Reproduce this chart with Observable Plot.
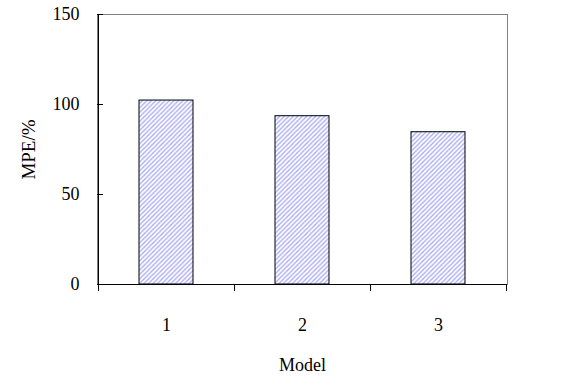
<!DOCTYPE html>
<html>
<head>
<meta charset="utf-8">
<script src="https://cdn.jsdelivr.net/npm/d3@7"></script>
<script src="https://cdn.jsdelivr.net/npm/@observablehq/plot@0.6"></script>
<style>
  html, body { margin: 0; padding: 0; background: #fff; }
  #chart svg { display: block; }
</style>
</head>
<body>
<div id="chart"></div>
<script>
const models = ["1", "2", "3"];
const mpe = [102.2, 93.5, 84.6];
const yTicks = [0, 50, 100, 150];

const data = models.map((m, i) => ({model: m, value: mpe[i]}));

const font = "'Liberation Serif', 'Times New Roman', serif";

const plot = Plot.plot({
  width: 576,
  height: 378,
  marginLeft: 97,
  marginRight: 69,
  marginTop: 14,
  marginBottom: 94,
  style: {fontFamily: font, fontSize: "18px", color: "#000", background: "#fff"},
  x: {domain: models, paddingInner: 0.6, paddingOuter: 0.3, align: 0.5, label: null},
  y: {domain: [0, 150], label: null},
  marks: [
    () => {
      const defs = d3.create("svg:defs");
      const p = defs.append("pattern")
        .attr("id", "hatch")
        .attr("patternUnits", "userSpaceOnUse")
        .attr("width", 4.5).attr("height", 4.5);
      p.append("rect").attr("width", 4.5).attr("height", 4.5).attr("fill", "#fff");
      p.append("path")
        .attr("d", "M0,4.5 L4.5,0 M-1,1 L1,-1 M3.5,5.5 L5.5,3.5")
        .attr("stroke", "#a4a6f4").attr("stroke-width", 1.25);
      return defs.node();
    },
    Plot.frame({stroke: "#808080"}),
    Plot.barY(data, {x: "model", y: "value", fill: "url(#hatch)", stroke: "#000", strokeWidth: 1}),
    Plot.ruleY([0], {stroke: "#000"}),
    Plot.axisY({ticks: yTicks, tickSize: -6, tickPadding: 24, fontSize: 18, stroke: "#000"}),
    Plot.axisX({tickSize: 0, tickPadding: 34, fontSize: 18}),
    Plot.text(["Model"], {frameAnchor: "bottom", dy: 86, fontSize: 18}),
    Plot.text(["MPE/%"], {frameAnchor: "left", textAnchor: "middle", dx: -69, rotate: -90, fontSize: 19})
  ]
});

// left axis line and category-boundary ticks, positioned from the plot's own scales
const svg = d3.select(plot);
const xs = plot.scale("x");
const ys = plot.scale("y");
const y0 = ys.apply(0);
const yTop = ys.apply(150);
const gap = (xs.step - xs.bandwidth) / 2;
const bounds = models.map(m => xs.apply(m) - gap);
bounds.push(bounds[bounds.length - 1] + xs.step);
const g = svg.append("g").attr("stroke", "#000").attr("shape-rendering", "crispEdges");
g.append("line").attr("x1", bounds[0]).attr("x2", bounds[0]).attr("y1", yTop).attr("y2", y0);
bounds.forEach(b => g.append("line").attr("x1", b).attr("x2", b).attr("y1", y0).attr("y2", y0 + 7));
g.append("line").attr("x1", bounds[0]).attr("x2", bounds[bounds.length - 1]).attr("y1", y0).attr("y2", y0);

document.getElementById("chart").appendChild(plot);
</script>
</body>
</html>
